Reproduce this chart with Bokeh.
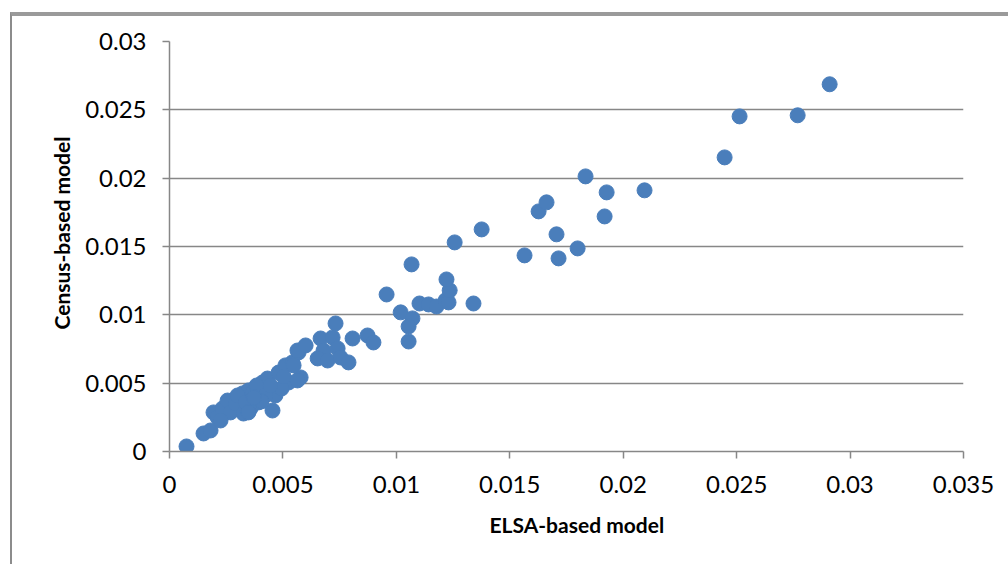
from bokeh.plotting import figure
from bokeh.layouts import column
from bokeh.models import FixedTicker, Title
from bokeh.embed import file_html
from bokeh.resources import INLINE

# ELSA-based estimate (x) against census-based estimate (y) for each area
elsa = [
    0.00075, 0.0015, 0.00181, 0.00194, 0.00212, 0.00234, 0.00256, 0.00269,
    0.00291, 0.00322, 0.00326, 0.00348, 0.00357, 0.0030, 0.00335, 0.00366,
    0.0041, 0.00432, 0.00454, 0.00467, 0.00481, 0.00511, 0.00525, 0.00542,
    0.00569, 0.00578, 0.00392, 0.00348, 0.00732, 0.00666, 0.00719, 0.00807,
    0.00873, 0.00899, 0.00564, 0.0060, 0.00679, 0.00741, 0.00653, 0.00697,
    0.00754, 0.00789, 0.00547, 0.00564, 0.00384, 0.00494, 0.00423, 0.00503,
    0.00225, 0.00405, 0.00445, 0.00372,
    0.00957, 0.01019, 0.01067, 0.01071, 0.01054, 0.01054, 0.01102, 0.01142,
    0.01177, 0.01217, 0.0123, 0.01235, 0.01221, 0.01257, 0.0134, 0.01376,
    0.01565, 0.01627, 0.01662, 0.01706, 0.01715, 0.01799, 0.01834, 0.01918,
    0.01927, 0.02094, 0.02447, 0.02513, 0.02769, 0.0291,
]
census = [
    0.00037, 0.00132, 0.00154, 0.00286, 0.00249, 0.00315, 0.00373, 0.00286,
    0.00351, 0.00425, 0.00278, 0.00447, 0.00315, 0.0041, 0.00359, 0.00432,
    0.00505, 0.00534, 0.0030, 0.0041, 0.00578, 0.0063, 0.00505, 0.00652,
    0.00725, 0.00542, 0.00359, 0.00286, 0.00937, 0.00827, 0.00835, 0.00827,
    0.00849, 0.00798, 0.00739, 0.00776, 0.00739, 0.00754, 0.00681, 0.00666,
    0.00688, 0.00652, 0.0063, 0.0052, 0.00483, 0.00461, 0.0041, 0.00549,
    0.00227, 0.00366, 0.00483, 0.00395,
    0.01149, 0.01018, 0.01369, 0.00974, 0.00915, 0.00805, 0.01083, 0.01076,
    0.01061, 0.01106, 0.01091, 0.01179, 0.01259, 0.0153, 0.01083, 0.01625,
    0.01435, 0.01757, 0.01823, 0.01589, 0.01413, 0.01486, 0.02013, 0.0172,
    0.01896, 0.01911, 0.02152, 0.02452, 0.0246, 0.02687,
]

x_ticks = [0, 0.005, 0.01, 0.015, 0.02, 0.025, 0.03, 0.035]
x_tick_labels = ["0", "0.005", "0.01", "0.015", "0.02", "0.025", "0.03", "0.035"]
y_ticks = [0, 0.005, 0.01, 0.015, 0.02, 0.025, 0.03]
y_tick_labels = ["0", "0.005", "0.01", "0.015", "0.02", "0.025", "0.03"]

x_title = "ELSA-based model"
y_title = "Census-based model"

GRID = "#878787"
BLUE = "#4a7ebb"
FONT = "Lato"

p = figure(
    width=996, height=548,
    x_range=(0, 0.035), y_range=(0, 0.03),
    output_backend="svg", toolbar_location=None,
    min_border_left=157, min_border_right=45,
    min_border_top=25, min_border_bottom=113,
)
p.outline_line_color = None
p.background_fill_color = "white"
p.border_fill_color = "white"

p.xgrid.grid_line_color = None
p.ygrid.grid_line_color = GRID
p.ygrid.grid_line_width = 1.5

for ax, ticks, labels in ((p.xaxis[0], x_ticks, x_tick_labels),
                          (p.yaxis[0], y_ticks, y_tick_labels)):
    ax.ticker = FixedTicker(ticks=ticks)
    ax.major_label_overrides = dict(zip(ticks, labels))
    ax.axis_line_color = GRID
    ax.axis_line_width = 1.5
    ax.major_tick_line_color = GRID
    ax.major_tick_line_width = 1.5
    ax.major_tick_out = 7
    ax.major_tick_in = 0
    ax.minor_tick_line_color = None
    ax.major_label_text_font = FONT
    ax.major_label_text_font_size = "24px"
    ax.major_label_text_color = "black"

p.xaxis.major_label_standoff = 17
p.yaxis.major_label_standoff = 16

p.scatter(elsa, census, size=15, fill_color=BLUE, line_color=BLUE, line_width=1)

# axis titles as side titles, nudged along their axes
p.add_layout(Title(text=x_title, align="left", offset=320, standoff=29,
                   text_font=FONT, text_font_style="bold", text_font_size="21px",
                   text_color="black"), "below")
p.add_layout(Title(text=y_title, align="left", offset=122, standoff=17,
                   text_font=FONT, text_font_style="bold", text_font_size="21px",
                   text_color="black"), "left")

# chart-area border on the top and left edges
root = column(p, styles={
    "margin-left": "10px", "margin-top": "12px",
    "border-left": "2px solid #8c8c8c", "border-top": "4px solid #9a9a9a",
})

open("out.html", "w").write(file_html(root, INLINE))
